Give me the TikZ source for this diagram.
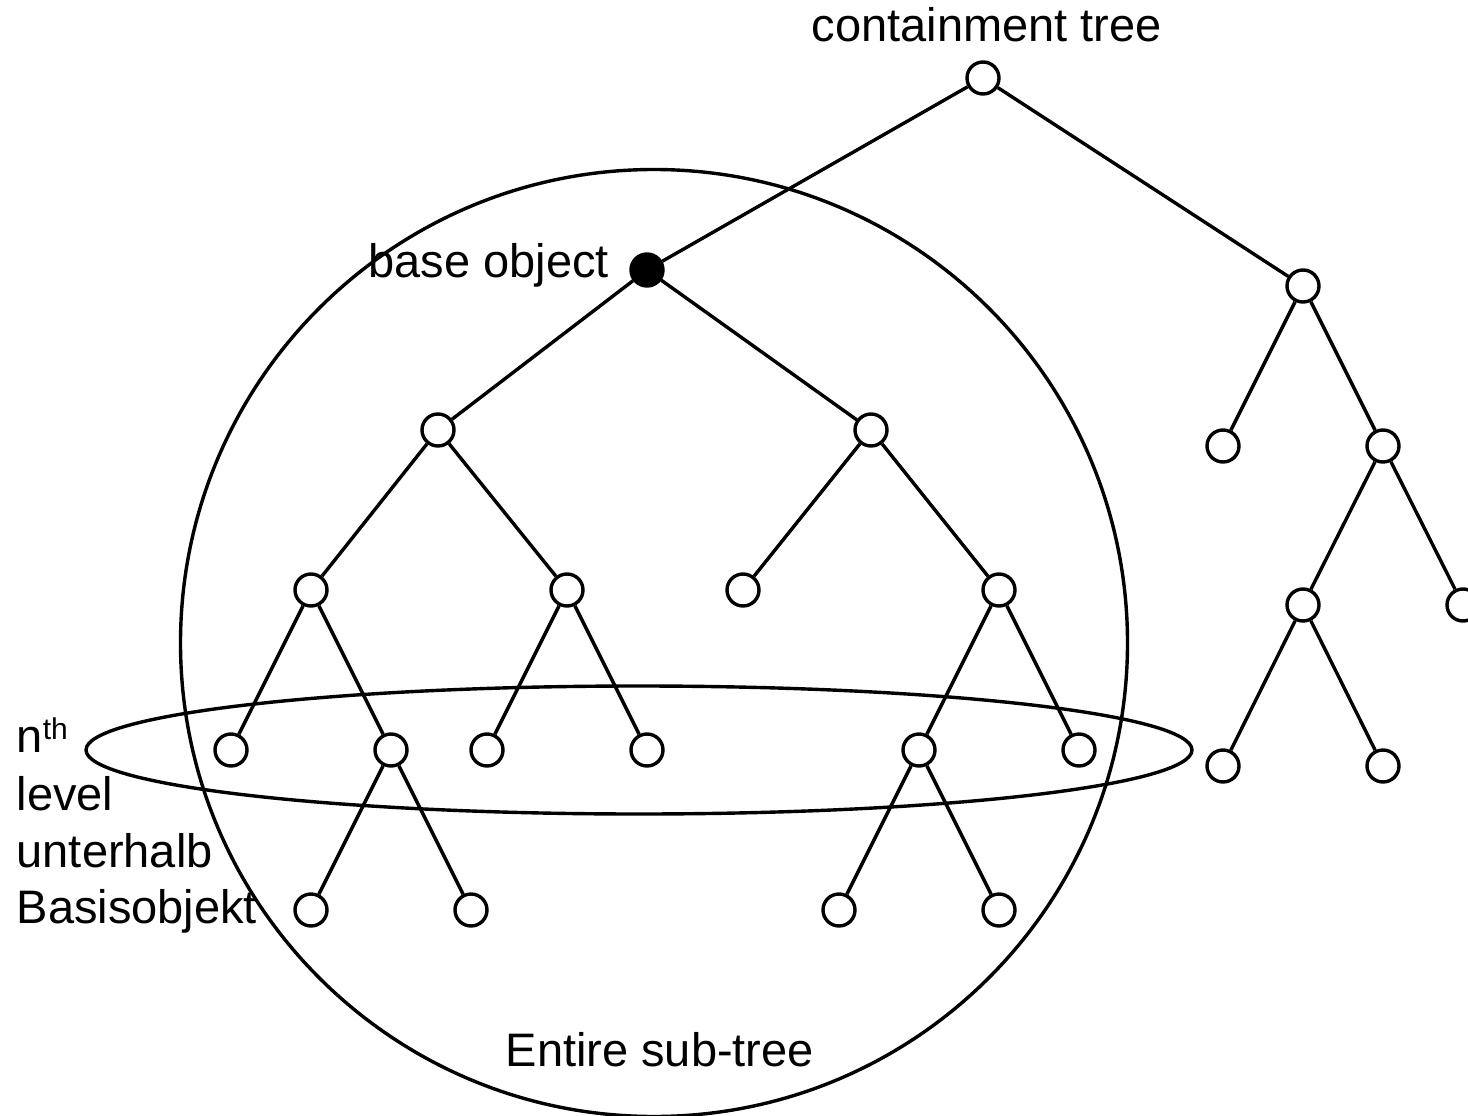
\documentclass[tikz,border=0pt]{standalone}
\usepackage{fontspec}
\setmainfont{Liberation Sans}
\begin{document}
\begin{tikzpicture}[x=1pt,y=-1pt,
  line width=3.4pt,
  tn/.style={circle,draw,fill=white,minimum size=32pt,inner sep=0pt},
  bn/.style={circle,draw,fill=black,minimum size=32pt,inner sep=0pt},
  lbl/.style={inner sep=0pt,font=\fontsize{47}{57}\selectfont}]
\useasboundingbox (0,0) rectangle (1468,1116);

% grouping outlines
\draw (654,643) circle[radius=473.5];
\draw (639,750) ellipse[x radius=553,y radius=64];

% nodes of the containment tree
\node[tn] (root) at (983,78) {};
\node[bn] (base) at (647,270) {};
\node[tn] (r1)   at (1303,286) {};
\node[tn] (a)    at (438,430) {};
\node[tn] (b)    at (871,430) {};
\node[tn] (r1a)  at (1223,446) {};
\node[tn] (r1b)  at (1383,446) {};
\node[tn] (aa)   at (311,590) {};
\node[tn] (ab)   at (567,590) {};
\node[tn] (ba)   at (743,590) {};
\node[tn] (bb)   at (999,590) {};
\node[tn] (r1ba) at (1303,605) {};
\node[tn] (r1bb) at (1463,605) {};
\node[tn] (aaa)  at (231,750) {};
\node[tn] (aab)  at (391,750) {};
\node[tn] (aba)  at (487,750) {};
\node[tn] (abb)  at (647,750) {};
\node[tn] (bba)  at (919,750) {};
\node[tn] (bbb)  at (1079,750) {};
\node[tn] (r1baa) at (1223,766) {};
\node[tn] (r1bab) at (1383,766) {};
\node[tn] (aaba) at (311,910) {};
\node[tn] (aabb) at (471,910) {};
\node[tn] (bbaa) at (839,910) {};
\node[tn] (bbab) at (999,910) {};

% tree edges
\draw (root) -- (base);
\draw (root) -- (r1);
\draw (base) -- (a);
\draw (base) -- (b);
\draw (a) -- (aa);
\draw (a) -- (ab);
\draw (b) -- (ba);
\draw (b) -- (bb);
\draw (aa) -- (aaa);
\draw (aa) -- (aab);
\draw (ab) -- (aba);
\draw (ab) -- (abb);
\draw (bb) -- (bba);
\draw (bb) -- (bbb);
\draw (aab) -- (aaba);
\draw (aab) -- (aabb);
\draw (bba) -- (bbaa);
\draw (bba) -- (bbab);
\draw (r1) -- (r1a);
\draw (r1) -- (r1b);
\draw (r1b) -- (r1ba);
\draw (r1b) -- (r1bb);
\draw (r1ba) -- (r1baa);
\draw (r1ba) -- (r1bab);

% labels
\node[lbl,anchor=base west] (title) at (810,42) {containment tree};
\node[lbl,anchor=base west] (baselbl) at (367,277) {base object};
\node[lbl,anchor=base west] (sub) at (504,1066) {Entire sub-tree};
\node[lbl,anchor=base west] (lv1) at (15,752) {n\raisebox{13pt}{\fontsize{30}{30}\selectfont th}};
\node[lbl,anchor=base west] (lv2) at (15,810) {level};
\node[lbl,anchor=base west] (lv3) at (15,867) {unterhalb};
\node[lbl,anchor=base west] (lv4) at (15,923) {Basisobjekt};
\end{tikzpicture}
\end{document}
